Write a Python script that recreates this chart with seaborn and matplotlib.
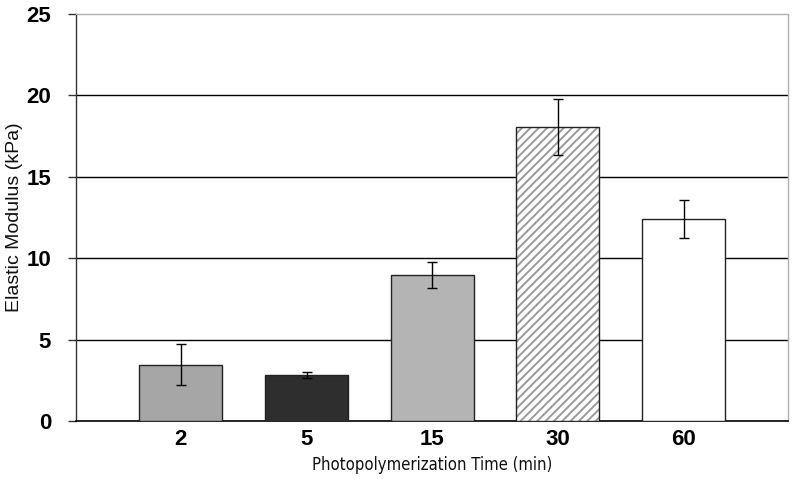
import matplotlib
matplotlib.use("Agg")
import matplotlib.pyplot as plt
from matplotlib.colors import to_rgba
import seaborn as sns

# photopolymerization time groups and measured modulus
times = ["2", "5", "15", "30", "60"]
modulus = [3.45, 2.85, 8.95, 18.05, 12.4]
modulus_err = [1.25, 0.18, 0.8, 1.7, 1.17]
bar_colors = ["#a6a6a6", "#2e2e2e", "#b4b4b4", "#ffffff", "#ffffff"]
bar_hatches = ["", "", "", "////", ""]

sns.set_style("white")
plt.rcParams["hatch.linewidth"] = 1.4

fig = plt.figure(figsize=(7.95, 4.79), dpi=100)
ax = fig.add_axes([0.0956, 0.121, 0.8955, 0.85])

sns.barplot(x=times, y=modulus, hue=times, palette=bar_colors, legend=False,
            width=0.66, edgecolor="#222222", linewidth=1.0, ax=ax, zorder=3)
for patch, h in zip(ax.patches, bar_hatches):
    patch.set_hatch(h)
    patch._hatch_color = to_rgba("#9a9a9a")

ax.errorbar(range(len(times)), modulus, yerr=modulus_err, fmt="none",
            ecolor="black", elinewidth=1, capsize=3.5, capthick=1, zorder=4)

ax.set_ylim(0, 25)
ax.set_xlim(-0.835, 4.83)
ax.set_yticks([0, 5, 10, 15, 20, 25])
for y in [5, 10, 15, 20]:
    ax.axhline(y, color="black", lw=1, zorder=1)

for s in ["top", "right"]:
    ax.spines[s].set_color("#b0b0b0")
    ax.spines[s].set_linewidth(1)
ax.spines["left"].set_color("#333333")
ax.spines["bottom"].set_color("black")
ax.spines["left"].set_linewidth(1)
ax.spines["bottom"].set_linewidth(1.2)

ax.tick_params(axis="y", direction="out", length=6, width=1, color="#333333",
               left=True, pad=12)
ax.tick_params(axis="x", length=0, pad=6)
for lbl in ax.get_yticklabels() + ax.get_xticklabels():
    lbl.set_fontfamily("Liberation Sans")
    lbl.set_fontweight("bold")
    lbl.set_fontsize(16)
    lbl.set_color("black")

ax.set_xlabel("Photopolymerization Time (min)", fontsize=12,
              fontfamily="DejaVu Sans", fontstretch="condensed", color="#111111")
ax.set_ylabel("Elastic Modulus (kPa)", fontsize=14,
              fontfamily="Liberation Sans", color="#111111")
ax.xaxis.set_label_coords(0.5, -0.085)
ax.yaxis.set_label_coords(-0.0744, 0.5)

fig.savefig("out.png", dpi=100)
